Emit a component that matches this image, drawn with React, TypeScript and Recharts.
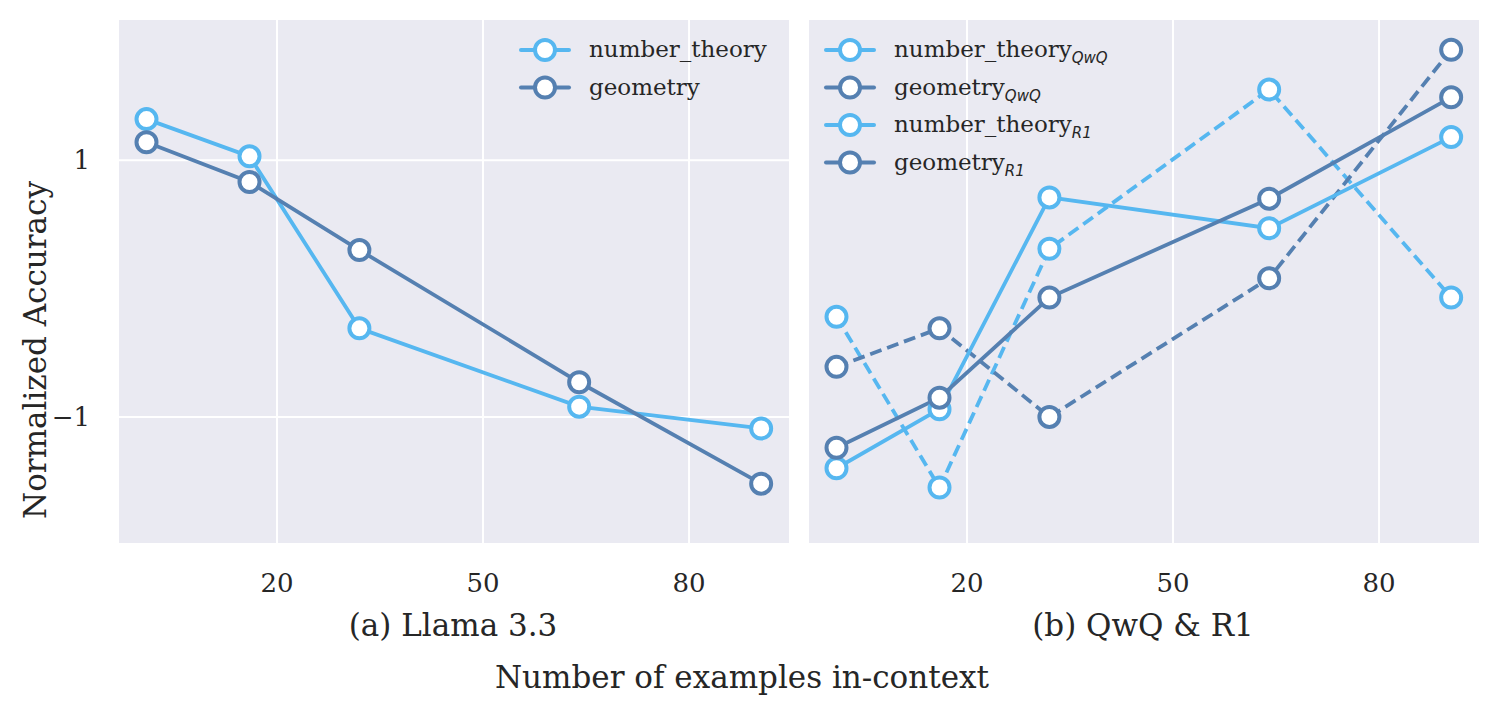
import React from 'react';
import { CartesianGrid, Line, LineChart, XAxis, YAxis } from 'recharts';

const shots = [1, 16, 32, 64, 90.5];

const llamaNumberTheory = [1.32, 1.03, -0.31, -0.92, -1.09];
const llamaGeometry = [1.14, 0.83, 0.3, -0.73, -1.52];

const qwqNumberTheory = [-0.22, -1.55, 0.31, 1.55, -0.07];
const qwqGeometry = [-0.61, -0.31, -1.0, 0.08, 1.86];
const r1NumberTheory = [-1.4, -0.94, 0.71, 0.47, 1.18];
const r1Geometry = [-1.24, -0.85, -0.07, 0.7, 1.49];

const xTicks = [20, 50, 80];
const yTicks = [-1, 1];

const LIGHT = '#56b7f0';
const DARK = '#5580b1';
const FONT = '"DejaVu Serif", serif';
const TEXT = '#262626';
const DASH = '12 6';

const leftData = shots.map((x, i) => ({ x, nt: llamaNumberTheory[i], geo: llamaGeometry[i] }));
const rightData = shots.map((x, i) => ({
  x,
  ntQ: qwqNumberTheory[i],
  geoQ: qwqGeometry[i],
  ntR: r1NumberTheory[i],
  geoR: r1Geometry[i],
}));

type Series = { key: string; name: string; sub?: string; color: string; dashed?: boolean };

const leftSeries: Series[] = [
  { key: 'nt', name: 'number_theory', color: LIGHT },
  { key: 'geo', name: 'geometry', color: DARK },
];
const rightSeries: Series[] = [
  { key: 'ntQ', name: 'number_theory', sub: 'QwQ', color: LIGHT, dashed: true },
  { key: 'geoQ', name: 'geometry', sub: 'QwQ', color: DARK, dashed: true },
  { key: 'ntR', name: 'number_theory', sub: 'R1', color: LIGHT },
  { key: 'geoR', name: 'geometry', sub: 'R1', color: DARK },
];

const dot = (color: string) => ({ r: 10, fill: '#fff', stroke: color, strokeWidth: 4, strokeDasharray: '0' });
const fmtY = (v: number) => (v < 0 ? '\u2212' + Math.abs(v) : String(v));

function LegendBox({ items, left, top }: { items: Series[]; left: number; top: number }) {
  const rowH = 37.5;
  return (
    <svg
      width={300}
      height={rowH * items.length + 10}
      style={{ position: 'absolute', left, top, overflow: 'visible' }}
    >
      {items.map((s, i) => {
        const y = 20 + i * rowH;
        return (
          <g key={s.key}>
            <line x1={0} x2={48} y1={y} y2={y} stroke={s.color} strokeWidth={4} strokeLinecap="round" />
            <circle cx={24} cy={y} r={10} fill="#fff" stroke={s.color} strokeWidth={4} />
            <text x={68} y={y + 7} fontFamily={FONT} fontSize={23} fill={TEXT}>
              {s.name}
              {s.sub && (
                <tspan fontFamily='"DejaVu Sans", sans-serif' fontSize={15} fontStyle="italic" dy={6}>
                  {s.sub}
                </tspan>
              )}
            </text>
          </g>
        );
      })}
    </svg>
  );
}

const tickStyle = { fontFamily: FONT, fontSize: 26, fill: TEXT };
const labelStyle: React.CSSProperties = {
  position: 'absolute',
  fontFamily: FONT,
  fontSize: 31,
  color: TEXT,
  whiteSpace: 'nowrap',
};

export default function App() {
  return (
    <div style={{ position: 'absolute', left: 0, top: 0, width: 1500, height: 713, background: '#fff' }}>
      <div style={{ position: 'absolute', left: 0, top: 0 }}>
        <LineChart width={790} height={600} data={leftData} margin={{ top: 19, right: 0, left: 0, bottom: 0 }}>
          <CartesianGrid fill="#eaeaf2" stroke="#fff" strokeWidth={2} />
          <XAxis
            dataKey="x"
            type="number"
            domain={[-3.15, 94.7]}
            ticks={xTicks}
            height={56}
            tickSize={0}
            tickMargin={30}
            axisLine={false}
            tickLine={false}
            tick={tickStyle}
          />
          <YAxis
            type="number"
            domain={[-1.99, 2.1]}
            ticks={yTicks}
            width={118}
            tickSize={0}
            tickMargin={28}
            axisLine={false}
            tickLine={false}
            tick={tickStyle}
            tickFormatter={fmtY}
          />
          {leftSeries.map((s) => (
            <Line
              key={s.key}
              dataKey={s.key}
              name={s.name}
              stroke={s.color}
              strokeWidth={3.8}
              dot={dot(s.color)}
              isAnimationActive={false}
            />
          ))}
        </LineChart>
      </div>
      <div style={{ position: 'absolute', left: 808, top: 0 }}>
        <LineChart width={672} height={600} data={rightData} margin={{ top: 19, right: 0, left: 0, bottom: 0 }}>
          <CartesianGrid fill="#eaeaf2" stroke="#fff" strokeWidth={2} />
          <XAxis
            dataKey="x"
            type="number"
            domain={[-3.15, 94.7]}
            ticks={xTicks}
            height={56}
            tickSize={0}
            tickMargin={30}
            axisLine={false}
            tickLine={false}
            tick={tickStyle}
          />
          <YAxis
            type="number"
            domain={[-1.99, 2.1]}
            ticks={yTicks}
            width={0}
            axisLine={false}
            tickLine={false}
            tick={false}
          />
          {rightSeries.map((s) => (
            <Line
              key={s.key}
              dataKey={s.key}
              name={s.sub ? `${s.name}_${s.sub}` : s.name}
              stroke={s.color}
              strokeWidth={3.8}
              strokeDasharray={s.dashed ? DASH : undefined}
              dot={dot(s.color)}
              isAnimationActive={false}
            />
          ))}
        </LineChart>
      </div>
      <LegendBox items={leftSeries} left={521} top={30} />
      <LegendBox items={rightSeries} left={826} top={30} />
      <div style={{ ...labelStyle, left: 453, top: 625, transform: 'translate(-50%, -50%)' }}>(a) Llama 3.3</div>
      <div style={{ ...labelStyle, left: 1143, top: 625, transform: 'translate(-50%, -50%)' }}>(b) QwQ &amp; R1</div>
      <div style={{ ...labelStyle, left: 742, top: 677, transform: 'translate(-50%, -50%)' }}>
        Number of examples in-context
      </div>
      <div style={{ ...labelStyle, left: 35, top: 350, transform: 'translate(-50%, -50%) rotate(-90deg)' }}>
        Normalized Accuracy
      </div>
    </div>
  );
}
